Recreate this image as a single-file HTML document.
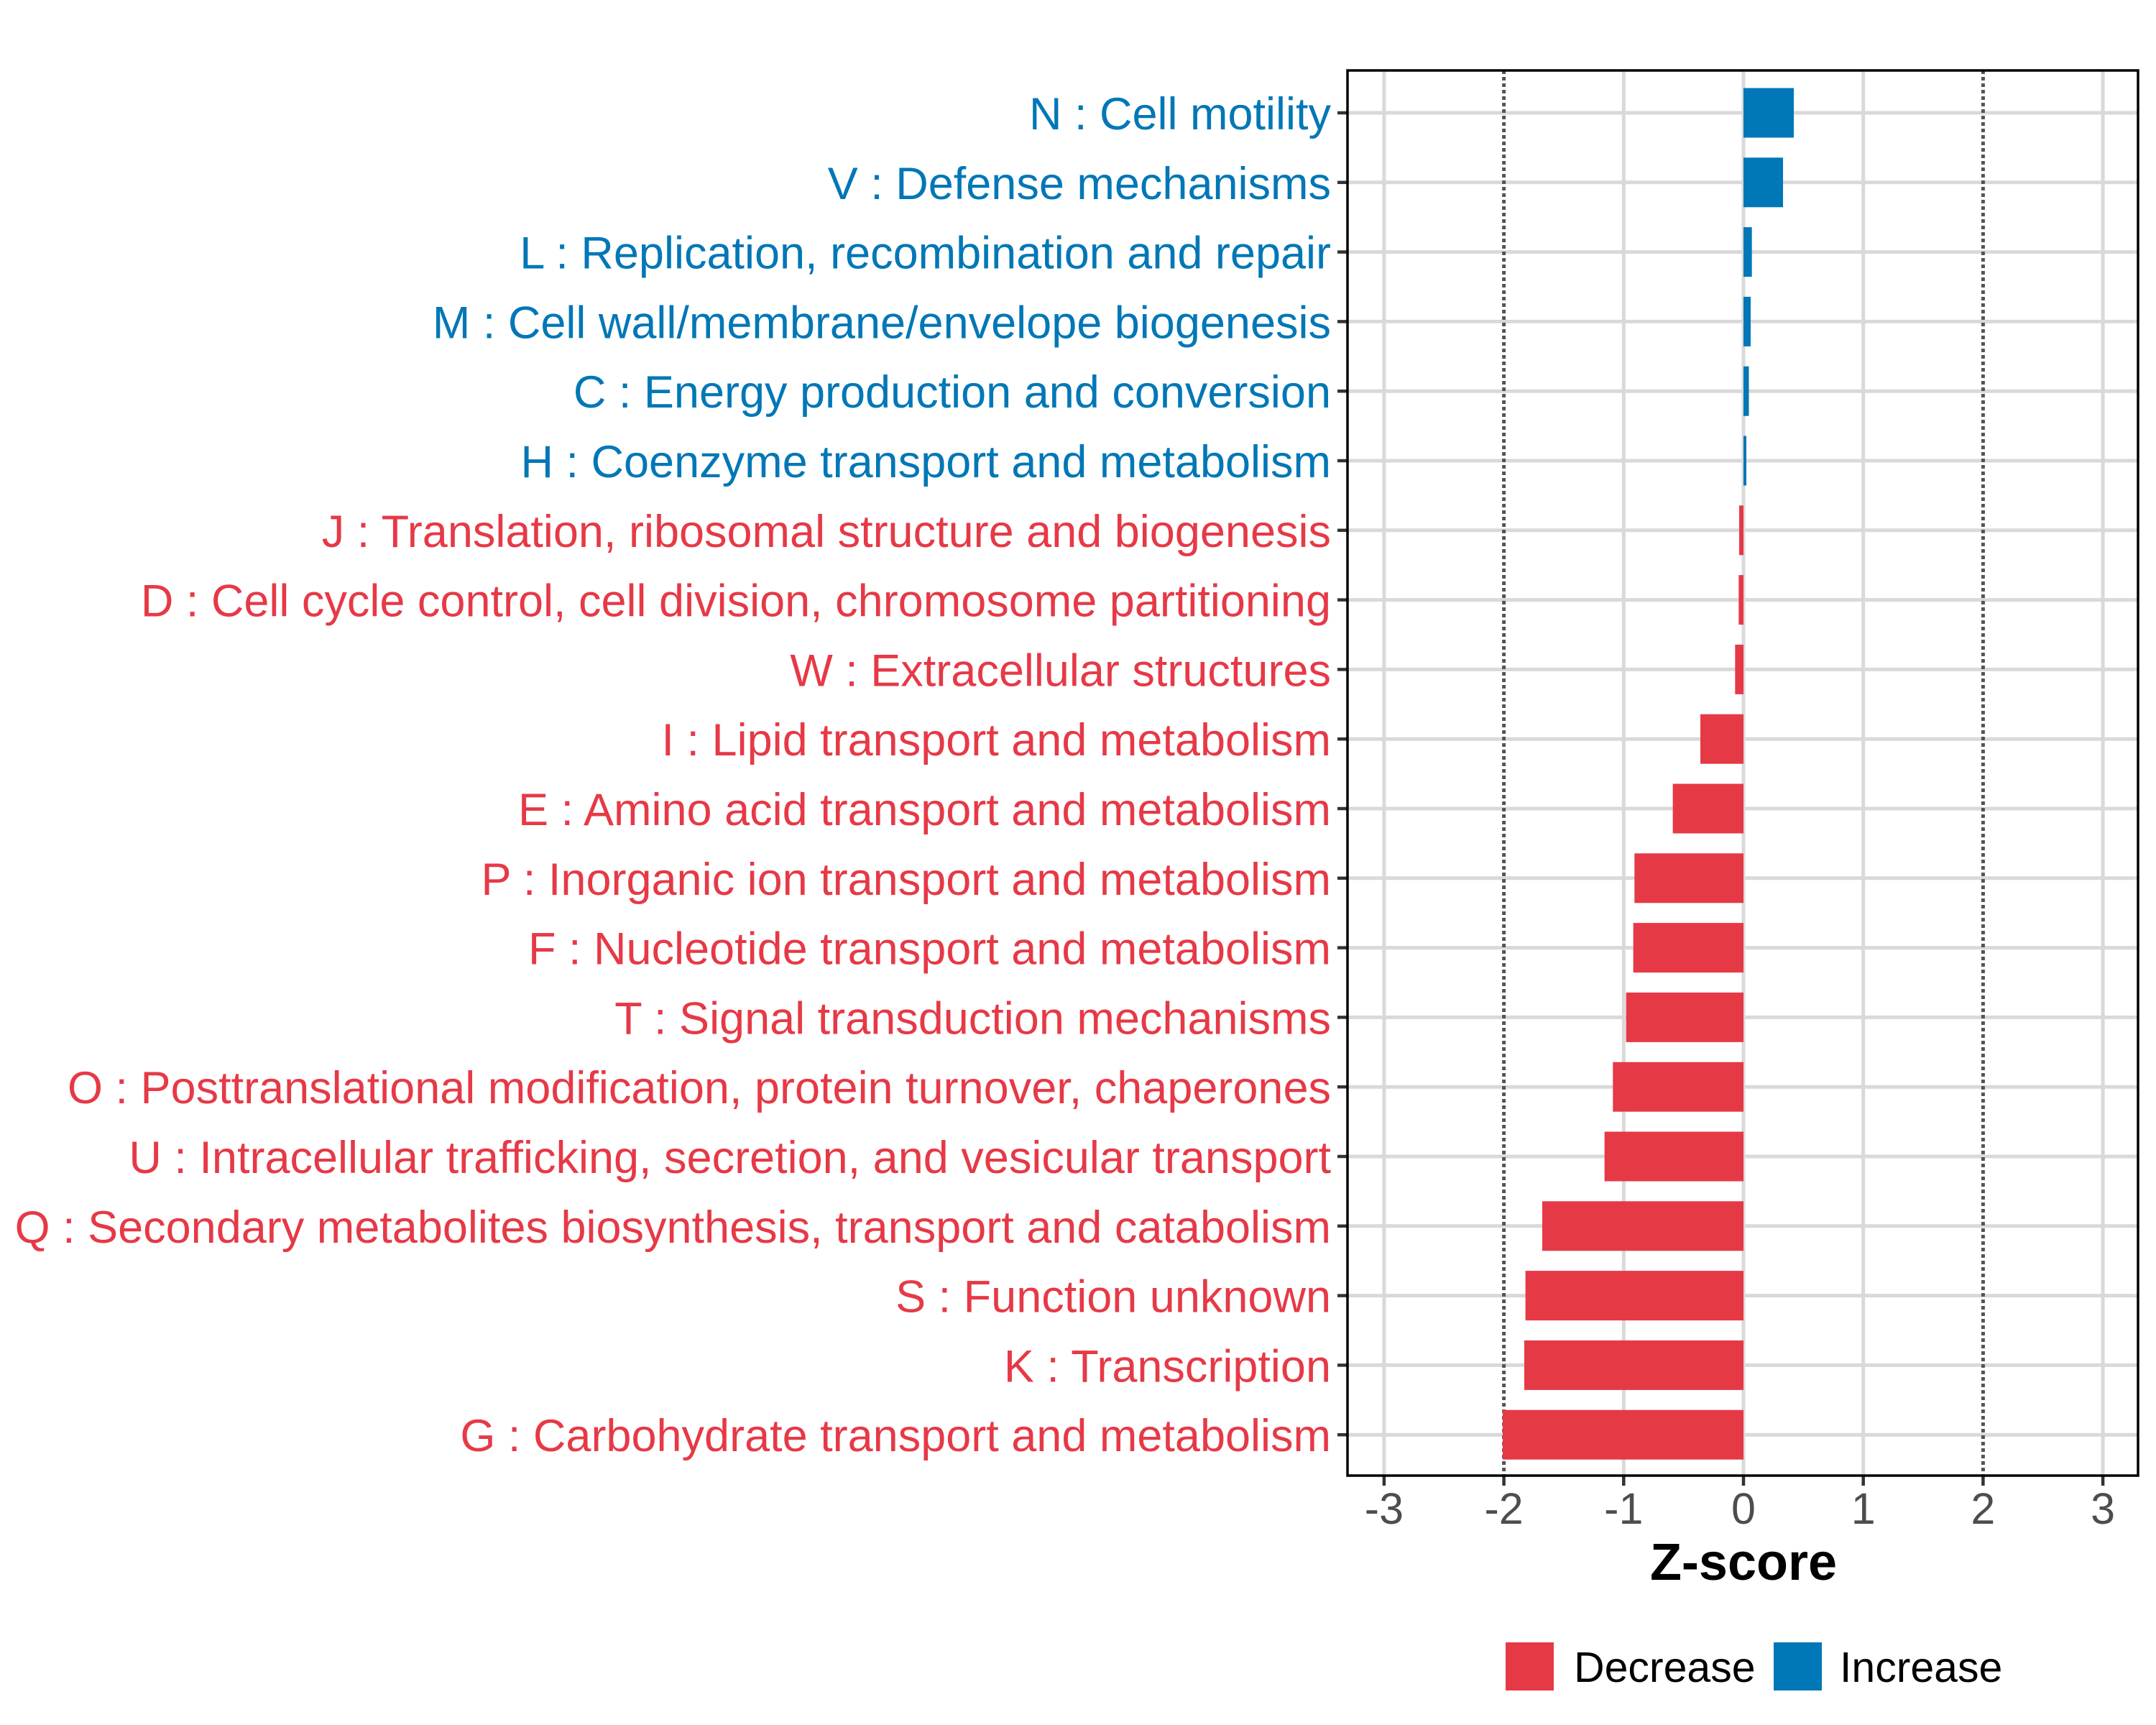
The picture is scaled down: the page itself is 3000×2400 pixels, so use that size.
<!DOCTYPE html>
<html><head><meta charset="utf-8"><style>
html,body{margin:0;padding:0;background:#fff;}
svg{display:block;font-family:"Liberation Sans",Arial,sans-serif;}
</style></head><body>
<svg id="chart" width="3000" height="2400" viewBox="0 0 3000 2400" xmlns="http://www.w3.org/2000/svg">
<rect width="3000" height="2400" fill="#fff"/>
<g id="grid"></g><g id="bars"></g><g id="ylabels"></g><g id="xaxis"></g>
<rect x="1875" y="98" width="1100" height="1955" fill="none" stroke="#000" stroke-width="3.5"/>
<text x="2426" y="2198" text-anchor="middle" font-size="72" font-weight="bold" fill="#000">Z-score</text>
<g>
<rect x="2095" y="2285" width="67" height="67" fill="#E63946"/>
<text x="2190" y="2340" font-size="59" fill="#000">Decrease</text>
<rect x="2468" y="2285" width="67" height="67" fill="#0077B6"/>
<text x="2560" y="2340" font-size="59" fill="#000">Increase</text>
</g>
</svg>
<script>
const categories = ["N : Cell motility","V : Defense mechanisms","L : Replication, recombination and repair","M : Cell wall/membrane/envelope biogenesis","C : Energy production and conversion","H : Coenzyme transport and metabolism","J : Translation, ribosomal structure and biogenesis","D : Cell cycle control, cell division, chromosome partitioning","W : Extracellular structures","I : Lipid transport and metabolism","E : Amino acid transport and metabolism","P : Inorganic ion transport and metabolism","F : Nucleotide transport and metabolism","T : Signal transduction mechanisms","O : Posttranslational modification, protein turnover, chaperones","U : Intracellular trafficking, secretion, and vesicular transport","Q : Secondary metabolites biosynthesis, transport and catabolism","S : Function unknown","K : Transcription","G : Carbohydrate transport and metabolism"];
const zscores = [0.42,0.33,0.07,0.06,0.045,0.024,-0.036,-0.04,-0.07,-0.36,-0.59,-0.91,-0.92,-0.98,-1.09,-1.16,-1.68,-1.82,-1.83,-2.01];
const xTicks = [-3,-2,-1,0,1,2,3];
const xTickLabels = ["-3","-2","-1","0","1","2","3"];
const thresholds = [-2,2];

const NS="http://www.w3.org/2000/svg";
const X0=2426, UNIT=166.7, Y0=157, STEP=96.8, BAR_H=69, PL=1875, PR=2975, PT=98, PB=2053;
function xs(v){return X0+v*UNIT;}
function ys(i){return Y0+i*STEP;}
function mk(tag,attrs,parent){const e=document.createElementNS(NS,tag);for(const k in attrs)e.setAttribute(k,attrs[k]);parent.appendChild(e);return e;}
const grid=document.getElementById('grid'),bars=document.getElementById('bars'),yl=document.getElementById('ylabels'),xa=document.getElementById('xaxis');
categories.forEach((c,i)=>{
  const g=mk('line',{x1:PL,x2:PR,y1:ys(i),y2:ys(i),stroke:'#D9D9D9','stroke-width':5},grid);
  
  
});
xTicks.forEach((t,i)=>{
  if(thresholds.includes(t)) return;
  const g=mk('line',{x1:xs(t),x2:xs(t),y1:PT,y2:PB,stroke:'#D9D9D9','stroke-width':5},grid);
  
  
});
thresholds.forEach(t=>{
  const l=mk('line',{x1:xs(t),x2:xs(t),y1:PT,y2:PB,stroke:'#555','stroke-width':5,'stroke-dasharray':'5 4'},grid);
  
  
});
zscores.forEach((v,i)=>{
  const col=v>=0?'#0077B6':'#E63946';
  const r=mk('rect',{x:Math.min(xs(0),xs(v)),y:ys(i)-BAR_H/2,width:Math.abs(xs(v)-xs(0)),height:BAR_H,fill:col},bars);
  
  
  const t=mk('text',{x:1852,y:ys(i)+23,'text-anchor':'end','font-size':63,fill:col},yl);
  t.textContent=categories[i];
  
  
  const tk=mk('line',{x1:1861,x2:PL,y1:ys(i),y2:ys(i),stroke:'#333','stroke-width':4.5},yl);
  
  
});
xTicks.forEach((t,i)=>{
  const tk=mk('line',{x1:xs(t),x2:xs(t),y1:PB,y2:PB+14,stroke:'#333','stroke-width':4.5},xa);
  
  
  const lb=mk('text',{x:xs(t),y:2120,'text-anchor':'middle','font-size':61,fill:'#4D4D4D'},xa);
  lb.textContent=xTickLabels[i];
  
  
});
</script>
</body></html>
